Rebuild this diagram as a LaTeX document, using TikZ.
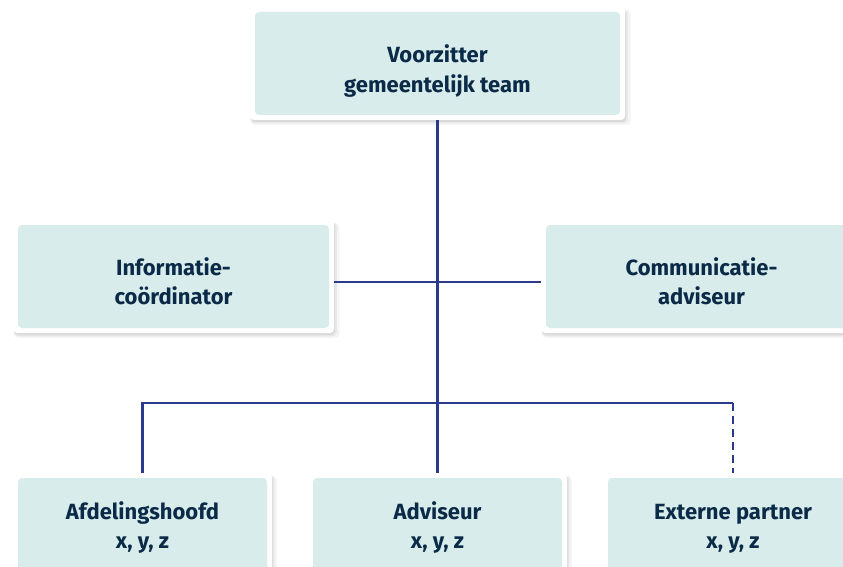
\documentclass[tikz,border=0pt]{standalone}
\usepackage{fontspec}
\setmainfont{Fira Sans}
\usetikzlibrary{shadows}
\definecolor{boxfill}{HTML}{D8ECEB}
\definecolor{linecol}{HTML}{2B3A8C}
\definecolor{txtcol}{HTML}{0B2A47}
\begin{document}
\begin{tikzpicture}[x=1pt,y=-1pt,
  card/.style={fill=white, rounded corners=4pt, inner sep=0pt, minimum height=113pt,
    drop shadow={shadow xshift=3pt, shadow yshift=-4pt, opacity=0.04, fill=black, shadow scale=1.015},
    drop shadow={shadow xshift=2pt, shadow yshift=-3pt, opacity=0.05, fill=black, shadow scale=1.005},
    drop shadow={shadow xshift=1pt, shadow yshift=-2pt, opacity=0.06, fill=black},
    path picture={\fill[boxfill] ([shift={(5pt,5pt)}]path picture bounding box.south west) rectangle ([shift={(-5pt,-5pt)}]path picture bounding box.north east);}},
  lbl/.style={anchor=south, inner sep=0pt, align=center, text depth=0pt, text=txtcol,
    font=\fontsize{22}{29.5}\selectfont\bfseries},
  conn/.style={draw=linecol, line width=2.6pt, line join=miter}]
\useasboundingbox (0,0) rectangle (843,567);
\clip (0,0) rectangle (843,567);
\fill[white] (0,0) rectangle (843,567);
% boxes
\node[card, minimum width=375pt] (top) at (437.5,63.5) {};
\node[card, minimum width=321pt] (info) at (173.5,276.5) {};
\node[card, minimum width=321pt] (comm) at (701.5,276.5) {};
\node[card, minimum width=259pt] (afd) at (142.5,529.5) {};
\node[card, minimum width=259pt] (adv) at (437.5,529.5) {};
\node[card, minimum width=260pt] (ext) at (733,529.5) {};
% texts
\node[lbl] (topT) at (437.5,92.5) {Voorzitter\\gemeentelijk team};
\node[lbl] (infoT) at (173.5,305) {Informatie-\\coördinator};
\node[lbl] (commT) at (701.5,305) {Communicatie-\\adviseur};
\node[lbl] (afdT) at (142.5,549) {Afdelingshoofd\\x, y, z};
\node[lbl] (advT) at (437.5,549) {Adviseur\\x, y, z};
\node[lbl] (extT) at (733,549) {Externe partner\\x, y, z};
% connectors
\coordinate (hub) at (437.5,282);
\coordinate (bar) at (437.5,403);
\draw[conn] (top.south) -- (adv.north);
\draw[conn] (info.east |- hub) -- (comm.west |- hub);
\draw[conn] (afd.north) -- (afd.north |- bar) -- (bar -| ext.north);
\draw[conn, dash pattern=on 8pt off 5pt] (bar -| ext.north) -- (ext.north);
\end{tikzpicture}
\end{document}
